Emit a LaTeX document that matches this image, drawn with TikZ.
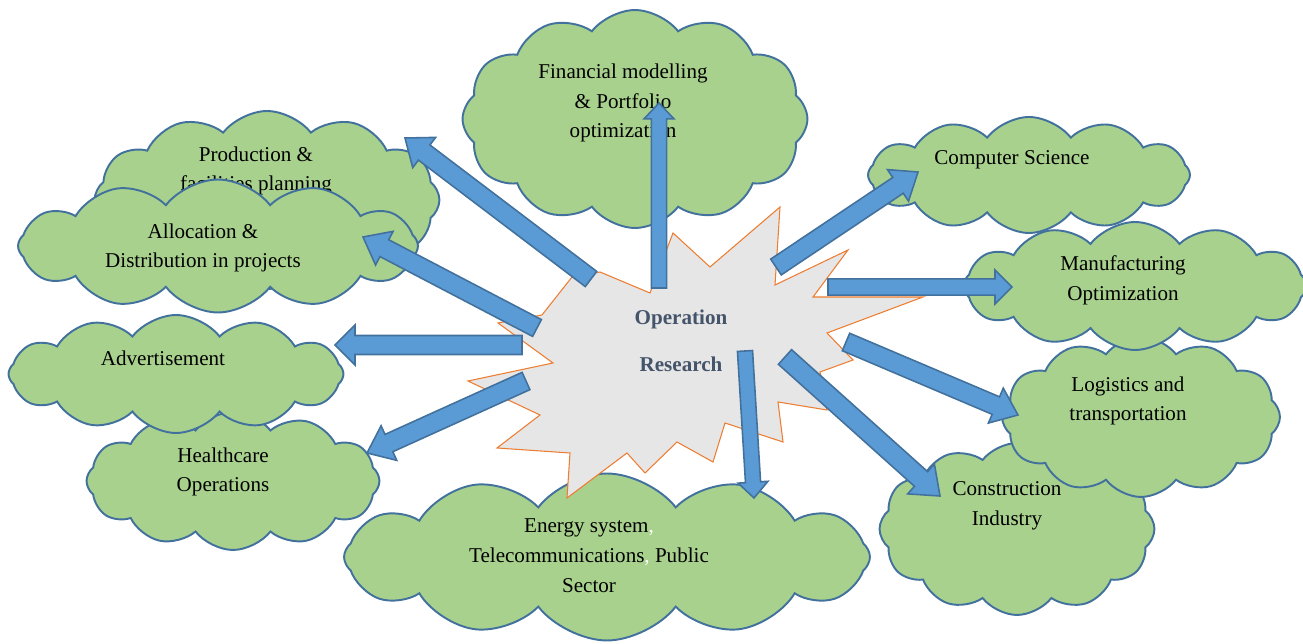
\documentclass[tikz,border=0pt]{standalone}
\usepackage{fontspec}
\setmainfont{Liberation Serif}
\usetikzlibrary{shapes.symbols,calc}

\definecolor{cloudgreen}{HTML}{A9D18E}
\definecolor{cloudedge}{HTML}{41719C}
\definecolor{arrowblue}{HTML}{5B9BD5}
\definecolor{burstgray}{HTML}{E7E6E6}
\definecolor{burstedge}{HTML}{ED7D31}
\definecolor{orgray}{HTML}{44546A}

% block arrow: tail, tip, half shaft, half head, head length
\newcommand{\blockarrow}[5]{%
  \coordinate (hb) at ($(#2)!#5!(#1)$);
  \draw[arrowbox] ($(#1)!#3!90:(#2)$) -- ($(hb)!#3!90:(#2)$) -- ($(hb)!#4!90:(#2)$) -- (#2)
    -- ($(hb)!#4!-90:(#2)$) -- ($(hb)!#3!-90:(#2)$) -- ($(#1)!#3!-90:(#2)$) -- cycle;}

\begin{document}
\begin{tikzpicture}[x=0.02cm, y=-0.02cm,
  cloudbox/.style={cloud, cloud puffs=12, cloud puff arc=105, cloud ignores aspect,
    fill=cloudgreen, draw=cloudedge, line width=1.1pt, inner sep=0pt},
  cloudtext/.style={align=center, font=\fontsize{12pt}{17pt}\selectfont},
  arrowbox/.style={fill=arrowblue, draw=cloudedge, line width=0.9pt, line join=miter},
  burst/.style={fill=burstgray, draw=burstedge, line width=0.6pt}]
\useasboundingbox (0,0) rectangle (1303,644);

% Clouds, back to front
\node[cloudbox, minimum width=6.9cm, minimum height=3.56cm] (prod) at (267,200) {};
\node[cloudtext] (prodtext) at (256,171) {Production \&\\facilities planning};
\node[cloudbox, minimum width=8.0cm, minimum height=2.66cm] (alloc) at (218,246) {};
\node[cloudtext] (alloctext) at (203,248) {Allocation \&\\Distribution in projects};
\node[cloudbox, minimum width=5.86cm, minimum height=2.76cm] (health) at (233,481) {};
\node[cloudtext] (healthtext) at (223,472) {Healthcare\\Operations};
\node[cloudbox, minimum width=6.7cm, minimum height=2.36cm] (adv) at (176,374) {};
\node[cloudtext] (advtext) at (163,358) {Advertisement};
\node[cloudbox, minimum width=6.9cm, minimum height=4.36cm] (fin) at (635,119) {};
\node[cloudtext] (fintext) at (623,103) {Financial modelling\\\& Portfolio\\optimization};
\node[cloudbox, minimum width=5.5cm, minimum height=3.44cm] (constr) at (1017,529) {};
\node[cloudtext] (constrtext) at (1007,506) {Construction\\Industry};
\node[cloudbox, minimum width=5.56cm, minimum height=3.2cm] (logi) at (1141,417) {};
\node[cloudtext] (logitext) at (1128,401) {Logistics and\\transportation};
\node[cloudbox, minimum width=6.86cm, minimum height=2.56cm] (manuf) at (1135,286) {};
\node[cloudtext] (manuftext) at (1123,280) {Manufacturing\\Optimization};
\node[cloudbox, minimum width=6.44cm, minimum height=2.32cm] (cs) at (1029,175) {};
\node[cloudtext] (cstext) at (1012,160) {Computer Science};
\node[cloudbox, minimum width=10.52cm, minimum height=3.34cm] (energy) at (607,557) {};
\node[cloudtext] (energytext) at (589,556) {Energy system\textcolor{white}{,}\\Telecommunications\textcolor{white}{,} Public\\Sector};

% Starburst
\draw[burst] (780,207) -- (775,285) -- (848,250) -- (813,297) -- (923,297) -- (827,333)
  -- (853,360) -- (820,372) -- (827,410) -- (778,402) -- (783,442) -- (725,423)
  -- (713,462) -- (677,442) -- (645,473) -- (627,453) -- (567,498) -- (570,453)
  -- (497,448) -- (540,415) -- (468,381) -- (553,363) -- (498,323) -- (542,315)
  -- (572,277) -- (600,272) -- (650,293) -- (673,233) -- (710,267) -- cycle;
\node[font=\bfseries\fontsize{12pt}{27pt}\selectfont, text=orgray, align=center] (or) at (681,341) {Operation\\Research};

% Arrow ends
\coordinate (prodtail) at (591,279);   \coordinate (prodtip) at (405,138);
\coordinate (alloctail) at (537,328);  \coordinate (alloctip) at (363,237);
\coordinate (advtail) at (522,345);    \coordinate (advtip) at (335,345);
\coordinate (healthtail) at (526,381); \coordinate (healthtip) at (367,453);
\coordinate (energytail) at (745,351); \coordinate (energytip) at (754,498);
\coordinate (constrtail) at (785,357); \coordinate (constrtip) at (940,496);
\coordinate (logitail) at (846,342);   \coordinate (logitip) at (1018,415);
\coordinate (manuftail) at (828,287);  \coordinate (manuftip) at (1012,287);
\coordinate (cstail) at (776,267);     \coordinate (cstip) at (918,172);
\coordinate (fintail) at (659,288);    \coordinate (fintip) at (659,103);

\blockarrow{prodtail}{prodtip}{5.4pt}{10.8pt}{13.7pt}
\blockarrow{alloctail}{alloctip}{5.4pt}{10.8pt}{13.7pt}
\blockarrow{advtail}{advtip}{5.4pt}{11.4pt}{11.4pt}
\blockarrow{healthtail}{healthtip}{5.4pt}{10.8pt}{13.7pt}
\blockarrow{energytail}{energytip}{4.3pt}{8.5pt}{9pt}
\blockarrow{constrtail}{constrtip}{5.6pt}{11.4pt}{14.5pt}
\blockarrow{logitail}{logitip}{5.4pt}{10.8pt}{13.7pt}
\blockarrow{manuftail}{manuftip}{4.6pt}{9.7pt}{9.7pt}
\blockarrow{cstail}{cstip}{5.4pt}{10.8pt}{13.7pt}
\blockarrow{fintail}{fintip}{4.3pt}{8.5pt}{9pt}
\end{tikzpicture}
\end{document}
